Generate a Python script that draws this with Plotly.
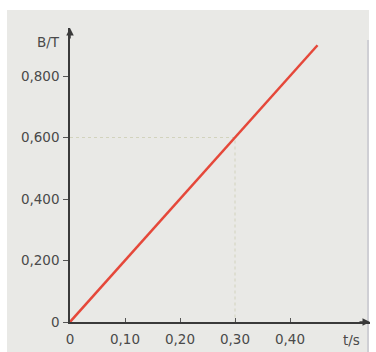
import plotly.graph_objects as go

t_values = [0.0, 0.45]
B_values = [0.0, 0.90]
guide_t = [0.0, 0.30, 0.30]
guide_B = [0.60, 0.60, 0.0]
x_tickvals = [0, 0.1, 0.2, 0.3, 0.4]
x_ticktext = ["0", "0,10", "0,20", "0,30", "0,40"]
y_tickvals = [0, 0.2, 0.4, 0.6, 0.8]
y_ticktext = ["0", "0,200", "0,400", "0,600", "0,800"]

W, H = 376, 352
L, R, T, B = 70, 6, 28, 30
pw, ph = W - L - R, H - T - B

def px_x(p):
    return (p - L) / pw

def px_y(p):
    return (H - B - p) / ph

fig = go.Figure()
fig.add_trace(go.Scatter(x=guide_t, y=guide_B, mode="lines",
                         line=dict(color="#d2d3bd", width=1, dash="dot"),
                         hoverinfo="skip", showlegend=False))
fig.add_trace(go.Scatter(x=t_values, y=B_values, mode="lines",
                         line=dict(color="#e5483a", width=2.5),
                         showlegend=False))

font = dict(family="DejaVu Sans", size=13.5, color="#4a4a4a")

fig.update_layout(
    width=W, height=H,
    margin=dict(l=L, r=R, t=T, b=B),
    paper_bgcolor="white",
    plot_bgcolor="rgba(0,0,0,0)",
    font=font,
    xaxis=dict(range=[0, pw / 550.0], tickvals=x_tickvals, ticktext=x_ticktext,
               showgrid=False, zeroline=False, showline=True, linecolor="#3a3a3a",
               linewidth=1.5, ticks="inside", ticklen=4, tickcolor="#555",
               ticklabelstandoff=4, tickfont=font),
    yaxis=dict(range=[0, ph / 61.5 * 0.2], tickvals=y_tickvals, ticktext=y_ticktext,
               showgrid=False, zeroline=False, showline=True, linecolor="#3a3a3a",
               linewidth=1.5, ticks="outside", ticklen=5, tickcolor="#555",
               ticklabelstandoff=1, tickfont=font),
    shapes=[
        dict(type="rect", xref="paper", yref="paper", layer="below",
             x0=px_x(7), x1=px_x(369), y0=px_y(352), y1=px_y(10),
             fillcolor="#e9e9e6", line=dict(width=0)),
        dict(type="line", xref="paper", yref="paper", layer="below",
             x0=px_x(368), x1=px_x(368), y0=px_y(352), y1=px_y(40),
             line=dict(color="#cfcfd4", width=2)),
    ],
    annotations=[
        dict(x=0, y=1, xref="x", yref="paper", ax=0, ay=12, axref="pixel", ayref="pixel",
             showarrow=True, arrowhead=2, arrowsize=1, arrowwidth=1.5, arrowcolor="#3a3a3a", text=""),
        dict(x=1, y=0, xref="paper", yref="y", ax=-12, ay=0,
             showarrow=True, arrowhead=2, arrowsize=1, arrowwidth=1.5, arrowcolor="#3a3a3a", text=""),
        dict(x=px_x(62), y=px_y(42), xref="paper", yref="paper", text="B/T",
             showarrow=False, xanchor="right", yanchor="middle", font=font),
        dict(x=px_x(351), y=px_y(340), xref="paper", yref="paper", text="t/s",
             showarrow=False, xanchor="center", yanchor="middle", font=font),
    ],
)

fig.write_html("out.html", config={"displayModeBar": False},
               post_script="document.body.style.margin='0';document.body.style.overflow='hidden';")
